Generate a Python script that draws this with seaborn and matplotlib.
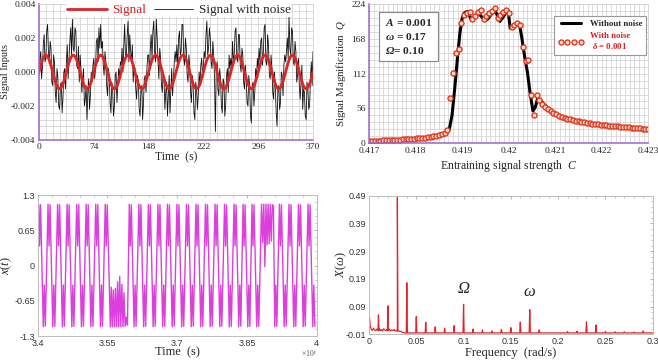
import numpy as np
import pandas as pd
import matplotlib
matplotlib.use('Agg')
import matplotlib.pyplot as plt
import seaborn as sns
from matplotlib.ticker import MultipleLocator, FixedLocator, AutoMinorLocator

sns.set_style('white')
plt.rcParams['font.family'] = ['Liberation Serif', 'DejaVu Serif']
plt.rcParams['axes.unicode_minus'] = False
plt.rcParams['mathtext.fontset'] = 'custom'
plt.rcParams['mathtext.rm'] = 'Liberation Serif'
plt.rcParams['mathtext.it'] = 'Liberation Serif:italic'
plt.rcParams['mathtext.bf'] = 'Liberation Serif:bold'
plt.rcParams['mathtext.bfit'] = 'Liberation Serif:italic:bold'

# ---------------- panel (a): input signal, units of 1e-4 ----------------
signal_period = [0, 3.8, 7.1, 9.2, 10, 9.2, 7.1, 3.8, 0, -3.8, -7.1, -9.2, -10, -9.2, -7.1, -3.8]
signal_e4 = signal_period * 10 + [0]          # 10 forcing periods over 370 s

noisy_e4 = [
    -2, 8, 12, -4, 3, 16, 22, 6, 8, 24, 28, 12, 5, 18, 14, -6, -8, 10, 6, -12, -18, 2, -3, -20, -22, -8, -6, -24, -15, 0, 2, -10,
    6, 16, -4, 8, 18, 26, 10, 31, 14, 12, 26, 24, 4, 2, 15, -6, 10, 2, -12, -4, 2, -20, -16, -8, -28, -12, -4, -22, -14, 0, -6, 4,
    8, -4, 2, 18, 20, 6, 26, 14, 28, 14, 18, 4, -2, 12, 6, -8, -14, 2, -2, -18, -24, -6, -10, -26, -20, -2, 0, -18, -8, 2, -4, 6,
    4, 14, 0, 16, 28, 8, 10, 22, 30, 6, 22, 12, 6, 16, -6, 4, 2, -10, -16, -2, -6, -22, -26, -10, -8, -28, -18, -4, -2, -12, 2, 10,
    10, -2, 14, 22, 8, 24, 30, 12, 6, 31, 20, 6, -4, 14, 8, -8, -12, 0, -4, -22, -12, -6, -26, -14, -2, -24, -10, 2, -14, -4, 6, 12,
    6, 16, 2, 20, 24, 10, 12, 28, 28, 8, 4, 20, 14, -2, -6, 10, 4, -12, -18, -2, -8, -24, -28, -6, -10, -22, -14, 0, -8, 4, 8, -4,
    4, 12, 8, 22, 30, 10, 14, 26, 20, 6, 2, 18, 10, -4, -35, 2, 6, -10, -14, 2, -4, -20, -24, -4, -6, -26, -20, -2, 2, -12, 10, 2,
    8, 2, 18, 6, 10, 24, 26, 8, 6, 22, 22, 4, 0, 14, 10, -6, -10, 4, -4, -18, -20, -2, -8, -26, -30, -8, -6, -20, -12, 2, -4, 8,
    2, 14, 6, 18, 20, 4, 12, 26, 28, 6, 4, 22, 16, -2, -4, 10, 2, -12, -16, 0, -10, -24, -32, -10, -8, -22, -18, 0, -2, -14, 4, 10,
    6, 12, 20, 8, 33, 14, 10, 26, 24, 6, 4, 18, 12, -6, -2, 8, -8, -16, -6, 4, -22, -10, -12, -26, -28, -6, -10, -22, -20, -4, 6, -8,
    12]

# ---------------- panel (b): magnification vs C ----------------
black_c = [0.417, 0.4175, 0.418, 0.4183, 0.4185, 0.4186, 0.41866, 0.41872, 0.41878, 0.41884, 0.4189,
           0.41895, 0.419, 0.41905, 0.4191, 0.41915, 0.4192, 0.41927, 0.41934, 0.41941, 0.41949,
           0.41955, 0.41962, 0.4197, 0.41976, 0.41981, 0.41988, 0.41995, 0.41999, 0.42003, 0.4201,
           0.42018, 0.42023, 0.42028, 0.42034, 0.4204, 0.42046, 0.42052, 0.42057, 0.42062, 0.42068,
           0.42075, 0.4209, 0.421, 0.4212, 0.4215, 0.4218, 0.422, 0.4225, 0.423]
black_q = [3.8, 5.4, 7.7, 10, 12.5, 14.5, 17, 22, 45, 90, 140,
           178, 202, 210, 212, 206, 198, 203, 210, 204, 197,
           200, 207, 214, 205, 196, 203, 211, 212, 185, 188,
           193, 192, 170, 140, 115, 80, 52, 58, 72, 70,
           63, 53, 47, 41, 35.4, 31.7, 29.9, 25.8, 22.6]

red_c = np.linspace(0.417, 0.423, 101)
red_q = [3.8, 3.9, 4.0, 4.1, 4.3, 4.5, 4.7, 4.9, 5.1, 5.4,
         5.7, 6.0, 6.3, 6.6, 6.9, 7.2, 7.5, 7.9, 8.3, 8.7,
         9.2, 9.8, 10.5, 11.2, 12.0, 13.0, 14.3, 16.5, 21, 73,
         113, 145, 151, 193, 206, 210, 211, 200, 205, 211,
         215, 200, 204, 209, 213, 217, 201, 206, 211, 215,
         210, 187, 190, 193, 190, 155, 132, 134, 78, 46,
         78, 70, 63, 59, 55, 52, 49, 46.5, 44.5, 42.5,
         41, 39.5, 38.3, 37.2, 36.3, 35.4, 34.6, 33.8, 33.1, 32.4,
         31.7, 31.1, 30.5, 29.9, 29.4, 28.9, 28.4, 27.9, 27.4, 27.0,
         26.6, 26.2, 25.8, 25.4, 25.0, 24.6, 24.2, 23.8, 23.4, 23.0, 22.6]

# ---------------- panel (c): x(t) ----------------
half_dt = [8, 30, 52]                        # peak, notch, peak of one well-state
half_x = [1.13, 0.36, 1.12]
rises_a = [34010, 34214, 34420, 34624, 34830, 35034, 35240, 35444]
low_cluster_t = [35562, 35582, 35604, 35626, 35650, 35672, 35696, 35718, 35742,
                 35764, 35788, 35810, 35834, 35856, 35880, 35905, 35930]
low_cluster_x = [-1.13, -0.4, -1.13, -0.45, -1.13, -0.42, -1.13, -0.3, -1.13,
                 -0.2, -1.13, -0.35, -1.13, -0.5, -1.12, -0.95, -1.1]
rises_b = [35962, 36168, 36372, 36578, 36782, 36986, 37192, 37396, 37600, 37806,
           38010, 38214, 38408, 38600]
high_cluster_t = [38814, 38838, 38862, 38886, 38908, 38932, 38954, 38978, 39000,
                  39024, 39046, 39070]
high_cluster_x = [1.13, 0.42, 1.13, -0.02, 1.13, 0.38, 1.13, 0.4, 1.13,
                  0.45, 1.12, 1.1]
rises_c = [39190, 39396, 39600, 39806]

# ---------------- panel (d): spectrum ----------------
peak_f = [0.01, 0.02, 0.03, 0.04, 0.05, 0.06, 0.07, 0.08, 0.09, 0.10, 0.11, 0.12, 0.13, 0.14,
          0.15, 0.16, 0.17, 0.18, 0.21, 0.22, 0.23, 0.24, 0.25, 0.26, 0.27, 0.28, 0.29]
peak_h = [0.06, 0.093, 0.484, 0.176, 0.054, 0.033, 0.017, 0.012, 0.021, 0.098, 0.009, 0.006, 0.002, 0.007,
          0.014, 0.034, 0.079, 0.006, 0.0, 0.001, 0.035, 0.023, 0.0, -0.001, -0.001, -0.002, 0.002]
floor_f = np.linspace(0.0, 0.036, 31)
floor_x = [0.074, 0.022, 0.008, 0.004, 0.012, 0.006, 0.003, 0.009, 0.005, 0.011, 0.004,
           0.007, 0.002, 0.010, 0.006, 0.003, 0.008, 0.004, 0.009, 0.002, 0.006,
           0.003, 0.007, 0.002, 0.004, 0.001, 0.003, 0.000, 0.001, -0.002, -0.003]
tail_base = -0.005

# ---------- assemble series ----------
t_sig = np.linspace(0, 370, len(signal_e4))
t_noise = np.linspace(0, 370, len(noisy_e4))
sig = np.array(signal_e4) * 1e-4
noisy = np.array(noisy_e4) * 1e-4

xt_t, xt_x = [34000], [-0.75]
def add_half(t0, sign):
    for dt, v in zip(half_dt, half_x):
        xt_t.append(t0 + dt)
        xt_x.append(sign * v)
def add_block(rises, last_low):
    for i, r in enumerate(rises):
        add_half(r, 1)
        if i < len(rises) - 1 or last_low:
            add_half(r + 102, -1)
add_block(rises_a, False)
xt_t += low_cluster_t; xt_x += low_cluster_x
add_block(rises_b, True)
xt_t += high_cluster_t; xt_x += high_cluster_x
add_half(39090, -1)
add_block(rises_c, True)
xt = pd.DataFrame({'t': xt_t, 'x': xt_x})

pts = list(zip(floor_f, floor_x))
for f, h in zip(peak_f, peak_h):
    b = 0.004 if f < 0.036 else tail_base
    pts += [(f - 0.0006, b), (f, h), (f + 0.0006, b)]
pts += [(0.0375, tail_base), (0.3, tail_base)]
pts.sort()
spec = pd.DataFrame(pts, columns=['f', 'x'])

# ---------- figure ----------
fig = plt.figure(figsize=(6.58, 3.62), dpi=100)
ax1 = fig.add_axes([0.0593, 0.6133, 0.4164, 0.3757])
ax2 = fig.add_axes([0.5612, 0.6042, 0.4240, 0.3848])
ax3 = fig.add_axes([0.0573, 0.0718, 0.4240, 0.3895])
ax4 = fig.add_axes([0.5608, 0.0765, 0.4311, 0.3829])

purple = '#9a66d0'
gridc = '#d2d2d2'

def grid_style(ax):
    ax.set_axisbelow(True)
    ax.grid(which='both', color=gridc, lw=0.55)
    for s in ['top', 'right']:
        ax.spines[s].set_color(gridc)
        ax.spines[s].set_linewidth(0.6)
    for s in ['left', 'bottom']:
        ax.spines[s].set_color(purple)
        ax.spines[s].set_linewidth(1.1)
    ax.tick_params(which='both', direction='in', color=purple, labelsize=6.8, pad=2.5)
    ax.tick_params(which='major', length=3, width=0.8)
    ax.tick_params(which='minor', length=2, width=0.6)

# (a)
sns.lineplot(x=t_noise, y=noisy, ax=ax1, color='#111111', lw=0.6, estimator=None, sort=False,
             label='Signal with noise')
sns.lineplot(x=t_sig, y=sig, ax=ax1, color='#e02424', lw=2.0, estimator=None, sort=False, label='Signal')
ax1.set_xlim(0, 370)
ax1.set_ylim(-0.004, 0.004)
ax1.xaxis.set_major_locator(MultipleLocator(74))
ax1.xaxis.set_minor_locator(MultipleLocator(9.25))
ax1.yaxis.set_major_locator(MultipleLocator(0.002))
ax1.yaxis.set_minor_locator(MultipleLocator(0.0004))
ax1.set_yticklabels(['%.3f' % v for v in ax1.get_yticks()])
grid_style(ax1)
ax1.set_xlabel('Time  (s)', fontsize=8.5)
ax1.set_ylabel('Signal Inputs', fontsize=7.5)
ax1.xaxis.set_label_coords(0.5, -0.085)
ax1.yaxis.set_label_coords(-0.105, 0.5)
h, l = ax1.get_legend_handles_labels()
leg = ax1.legend([h[1], h[0]], [l[1], l[0]], loc='center', bbox_to_anchor=(0.51, 0.955), ncol=2,
                 fontsize=9.5, handlelength=3.0, columnspacing=0.6, handletextpad=0.4, borderpad=0.05,
                 frameon=True, facecolor='white', edgecolor='none', framealpha=1, fancybox=False)
leg.get_texts()[0].set_color('#d62020')

# (b)
sns.lineplot(x=black_c, y=black_q, ax=ax2, color='black', lw=2.2, estimator=None, sort=False,
             label='Without noise')
sns.lineplot(x=red_c, y=red_q, ax=ax2, color='#e03a20', lw=0, marker='o', markersize=3.6,
             markerfacecolor='#ffd8c8', markeredgecolor='#e03a20', markeredgewidth=1.0,
             estimator=None, sort=False, label='With noise\n$\\mathbfit{\\delta}$ = 0.001')
ax2.set_xlim(0.417, 0.423)
ax2.set_ylim(0, 224)
c_ticks = [0.417, 0.418, 0.419, 0.42, 0.421, 0.422, 0.423]
c_labels = ['0.417', '0.418', '0.419', '0.42', '0.421', '0.422', '0.423']
ax2.xaxis.set_major_locator(FixedLocator(c_ticks))
ax2.set_xticklabels(c_labels)
ax2.xaxis.set_minor_locator(MultipleLocator(0.0001))
ax2.yaxis.set_major_locator(MultipleLocator(56))
ax2.yaxis.set_minor_locator(MultipleLocator(11.2))
grid_style(ax2)
ax2.set_xlabel('Entraining signal strength  $C$', fontsize=8.5)
ax2.set_ylabel('Signal Magnification  $Q$', fontsize=7.8)
ax2.xaxis.set_label_coords(0.5, -0.105)
ax2.yaxis.set_label_coords(-0.075, 0.5)
leg2 = ax2.legend(loc='upper right', bbox_to_anchor=(0.992, 0.915), numpoints=4,
                  handlelength=2.9, handletextpad=0.7, borderpad=0.45, labelspacing=0.45,
                  borderaxespad=0, frameon=True, facecolor='white', edgecolor='#999999',
                  framealpha=1, fancybox=False, prop={'weight': 'bold', 'size': 6.3})
leg2.get_frame().set_linewidth(0.8)
t2 = leg2.get_texts()[1]
t2.set_color('#e02020')
t2.set_multialignment('center')
ax2.text(0.055, 0.905, '$\\mathbfit{A}$ = 0.001\n$\\mathbfit{\\omega}$ = 0.17\n$\\mathbfit{\\Omega}$= 0.10',
         transform=ax2.transAxes, fontsize=8.2, fontweight='bold', va='top', ha='left', linespacing=1.3,
         bbox=dict(boxstyle='square,pad=0.5', fc='white', ec='#888888', lw=0.8))

# (c)
sns.lineplot(data=xt, x='t', y='x', ax=ax3, color='#dc3fdc', lw=1.0, estimator=None, sort=False)
ax3.set_xlim(34000, 40000)
ax3.set_ylim(-1.3, 1.3)

def matlab_style(ax):
    for s in ax.spines.values():
        s.set_color('#bdbdbd')
        s.set_linewidth(0.7)
    ax.tick_params(which='both', direction='in', top=True, right=True, color='#9a9a9a',
                   labelsize=6.5, pad=2, labelcolor='#333333')
    ax.tick_params(which='major', length=2.5, width=0.5)
    ax.tick_params(which='minor', length=1.5, width=0.4)
    for lab in ax.get_xticklabels() + ax.get_yticklabels():
        lab.set_fontfamily('Liberation Sans')

ax3.xaxis.set_major_locator(FixedLocator([34000, 35500, 37000, 38500, 40000]))
ax3.set_xticklabels(['3.4', '3.55', '3.7', '3.85', '4'])
ax3.xaxis.set_minor_locator(AutoMinorLocator(5))
ax3.yaxis.set_major_locator(FixedLocator([-1.3, -0.65, 0, 0.65, 1.3]))
ax3.set_yticklabels(['-1.3', '-0.65', '0', '0.65', '1.3'])
ax3.yaxis.set_minor_locator(AutoMinorLocator(5))
matlab_style(ax3)
ax3.set_xlabel('Time  (s)', fontsize=9)
ax3.set_ylabel('$x(t)$', fontsize=9)
ax3.xaxis.set_label_coords(0.5, -0.075)
ax3.yaxis.set_label_coords(-0.085, 0.5)
ax3.text(0.975, -0.082, '$\\times10^4$', transform=ax3.transAxes, fontsize=5.5, color='#555555',
         ha='center', va='top', family='Liberation Sans')

# (d)
sns.lineplot(data=spec, x='f', y='x', ax=ax4, color='#e0262b', lw=0.9, estimator=None, sort=False)
ax4.set_xlim(0, 0.3)
ax4.set_ylim(-0.01, 0.49)
ax4.xaxis.set_major_locator(FixedLocator([0, 0.05, 0.1, 0.15, 0.2, 0.25, 0.3]))
ax4.set_xticklabels(['0', '0.05', '0.1', '0.15', '0.2', '0.25', '0.3'])
ax4.xaxis.set_minor_locator(AutoMinorLocator(5))
ax4.yaxis.set_major_locator(FixedLocator([-0.01, 0.09, 0.19, 0.29, 0.39, 0.49]))
ax4.set_yticklabels(['-0.01', '0.09', '0.19', '0.29', '0.39', '0.49'])
ax4.yaxis.set_minor_locator(AutoMinorLocator(5))
matlab_style(ax4)
ax4.set_xlabel('Frequency  (rad/s)', fontsize=9)
ax4.set_ylabel('$X(\\omega)$', fontsize=9)
ax4.xaxis.set_label_coords(0.5, -0.095)
ax4.yaxis.set_label_coords(-0.07, 0.5)
ax4.text(0.1, 0.125, 'Ω', fontsize=12, style='italic', ha='center', va='bottom')
ax4.text(0.17, 0.112, 'ω', fontsize=12, style='italic', ha='center', va='bottom')

fig.savefig('out.png', dpi=100)
